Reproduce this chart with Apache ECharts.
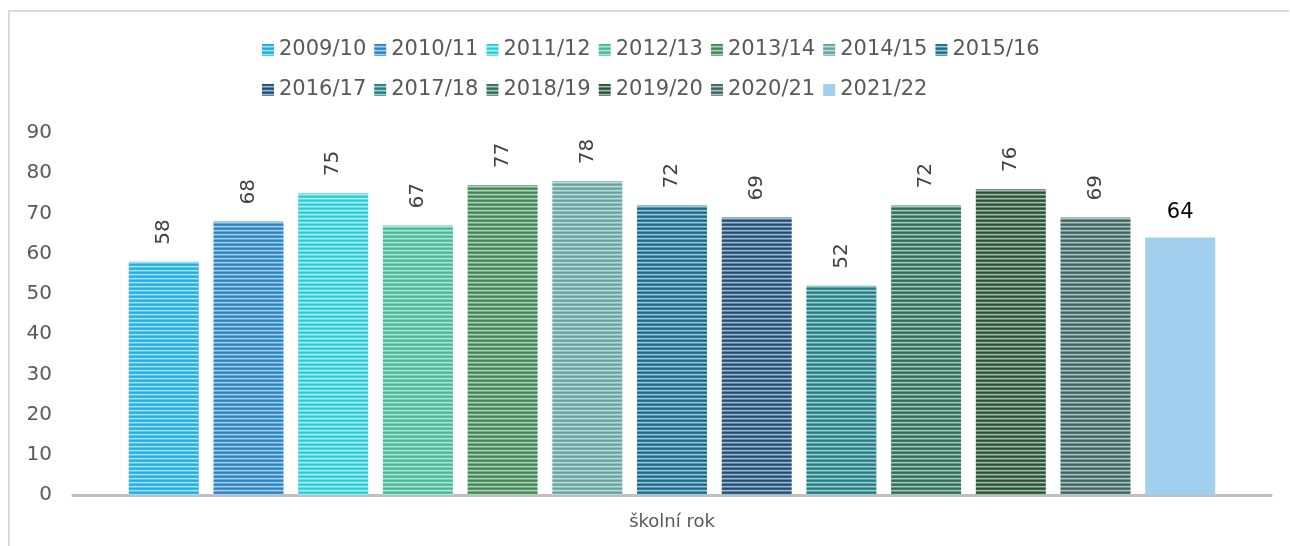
<!DOCTYPE html>
<html>
<head>
<meta charset="utf-8">
<script src="https://cdn.jsdelivr.net/npm/echarts@6/dist/echarts.min.js"></script>
<style>
html,body{margin:0;padding:0;background:#fff;}
#chart{width:1290px;height:546px;}
</style>
</head>
<body>
<div id="chart"></div>
<script>
const categories = ['školní rok'];
const seriesNames = ['2009/10','2010/11','2011/12','2012/13','2013/14','2014/15','2015/16','2016/17','2017/18','2018/19','2019/20','2020/21','2021/22'];
const values = [58,68,75,67,77,78,72,69,52,72,76,69,64];
const colors = ['#1CADE4','#2683C6','#27CED7','#42BA97','#3E8853','#62A39F','#146C8E','#1A4E78','#1A7E82','#2A7058','#265232','#3A6461','#A2CFEE'];
const striped = [true,true,true,true,true,true,true,true,true,true,true,true,false];
const yMin = 0, yMax = 90, yStep = 10;

function mix(hex, t){
  const r=parseInt(hex.slice(1,3),16),g=parseInt(hex.slice(3,5),16),b=parseInt(hex.slice(5,7),16);
  const f=(c)=>Math.round(c+(255-c)*t);
  return 'rgb('+f(r)+','+f(g)+','+f(b)+')';
}
function pattern(hex){
  const c=document.createElement('canvas');
  c.width=4;c.height=4;
  const ctx=c.getContext('2d');
  const rows=[mix(hex,0),mix(hex,0.12),mix(hex,0.6),mix(hex,0.3)];
  rows.forEach((col,i)=>{ctx.fillStyle=col;ctx.fillRect(0,i,4,1);});
  return {image:c,repeat:'repeat'};
}

const FONT = 'DejaVu Sans';
const chart = echarts.init(document.getElementById('chart'),null,{renderer:'canvas'});

const series = seriesNames.map((name,i)=>{
  const last = !striped[i];
  return {
    name:name,
    type:'bar',
    data:[values[i]],
    barWidth:70,
    barGap:'21%',
    itemStyle:{color: striped[i] ? pattern(colors[i]) : colors[i]},
    label:{
      show:true,
      position:'top',
      rotate: last ? 0 : 90,
      align: last ? 'center' : 'left',
      verticalAlign: last ? 'bottom' : 'middle',
      distance: last ? 15 : 17,
      color: last ? '#000000' : '#404040',
      fontFamily:FONT,
      fontSize: last ? 21 : 20
    },
    emphasis:{disabled:true}
  };
});

chart.setOption({
  animation:false,
  textStyle:{fontFamily:FONT},
  graphic:[{
    type:'polyline',
    shape:{points:[[9,546],[9,11],[1289,11]]},
    style:{stroke:'#d9d9d9',lineWidth:2,fill:null},
    silent:true
  }],
  legend:{
    data:seriesNames,
    left:257,
    top:29,
    width:800,
    itemWidth:12,
    itemHeight:12,
    itemGap:8,
    textStyle:{fontFamily:FONT,fontSize:21,color:'#595959',lineHeight:32},
    icon:'rect'
  },
  grid:{left:73,right:19,top:133,bottom:51,containLabel:false},
  xAxis:{
    type:'category',
    data:categories,
    axisLine:{show:true,lineStyle:{color:'#bfbfbf',width:3}},
    axisTick:{show:false},
    axisLabel:{fontFamily:FONT,fontSize:18,color:'#595959',margin:18}
  },
  yAxis:{
    type:'value',
    min:yMin,max:yMax,interval:yStep,
    axisLine:{show:false},
    axisTick:{show:false},
    splitLine:{show:false},
    axisLabel:{fontFamily:FONT,fontSize:20,color:'#595959',margin:21}
  },
  series:series
});
</script>
</body>
</html>
